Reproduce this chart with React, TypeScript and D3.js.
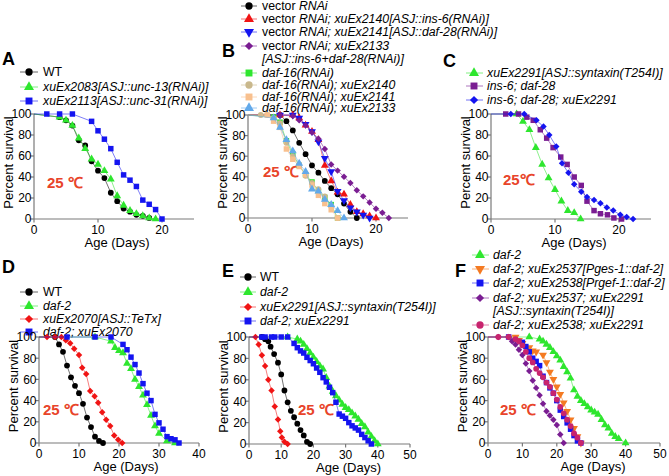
import * as d3 from "d3";
import React from "react";

type Pt = [number, number];
type Shape = "circle" | "square" | "triangle" | "down" | "diamond";

// ---- panel A: survival (day, % alive)
const aWT: Pt[] = [[4, 97], [5, 94], [6, 89], [7, 75], [8, 70], [9, 55], [10, 46], [11, 39], [12, 25], [13, 17], [14, 10], [15, 7], [16, 4], [17, 3], [18, 1]];
const aUnc13: Pt[] = [[4, 97], [5, 94], [6, 89], [7, 77], [8, 67], [9, 57], [10, 52], [11, 46], [12, 38], [13, 22], [14, 13], [15, 8], [16, 5], [17, 3], [18, 1], [19, 0]];
const aUnc31: Pt[] = [[2, 100], [4, 100], [6, 100], [9, 93], [10, 84], [11, 76], [12, 67], [13, 54], [14, 42], [15, 37], [16, 31], [17, 18], [18, 14], [19, 9], [20, 0]];

// ---- panel B
const bVec: Pt[] = [[5, 100], [6, 94], [7, 85], [8, 73], [9, 62], [10, 51], [11, 44], [12, 36], [13, 29], [14, 23], [15, 14], [16, 6], [17, 0]];
const bIns6: Pt[] = [[5, 100], [7, 100], [8, 97], [9, 90], [10, 84], [11, 76], [12, 51], [13, 36], [14, 25], [15, 23], [16, 13], [17, 6], [18, 4], [19, 2], [20, 0]];
const bDaf28: Pt[] = [[5, 100], [7, 100], [8, 97], [9, 91], [10, 84], [11, 74], [12, 58], [13, 45], [14, 26], [15, 17], [16, 10], [17, 6], [18, 3], [19, 0]];
const bBoth: Pt[] = [[5, 100], [7, 99], [8, 95], [9, 90], [10, 83], [11, 77], [12, 67], [13, 52], [14, 46], [15, 40], [16, 34], [17, 27], [18, 21], [19, 15], [20, 9], [21, 5], [22, 0]];
const bD16: Pt[] = [[4, 98], [5, 93], [6, 75], [7, 62], [8, 51], [9, 42], [10, 35], [11, 26], [12, 20], [13, 13], [14, 0]];
const bD16Ins6: Pt[] = [[2, 100], [3, 100], [4, 97], [5, 92], [6, 73], [7, 60], [8, 52], [9, 41], [10, 34], [11, 28], [12, 21], [13, 12], [14, 0]];
const bD16Daf28: Pt[] = [[3, 100], [4, 94], [5, 88], [6, 67], [7, 57], [8, 50], [9, 42], [10, 32], [11, 22], [12, 14], [13, 8], [14, 0]];
const bD16Both: Pt[] = [[4, 97], [5, 88], [6, 76], [7, 65], [8, 53], [9, 45], [10, 28], [11, 26], [12, 18], [13, 13], [14, 7], [15, 0]];

// ---- panel C
const cSyn: Pt[] = [[4, 100], [5, 93], [6, 85], [7, 68], [8, 52], [9, 39], [10, 28], [11, 17], [12, 8], [13, 6], [14, 0]];
const cInsDaf: Pt[] = [[2.3, 100], [4.3, 100], [5.6, 97], [6.6, 94], [7.7, 85], [8.7, 77], [9.7, 68], [10.9, 59], [11.9, 52], [13, 40], [14.1, 32], [15, 17], [16.1, 8], [17.1, 5], [18.2, 4], [19.2, 1], [20.4, 0]];
const cAll: Pt[] = [[3.1, 100], [5.2, 100], [7.1, 94], [8.2, 88], [9.1, 80], [10.2, 69], [11.1, 53], [12.1, 44], [13, 33], [14.1, 26], [15, 21], [16.1, 18], [17.1, 15], [18.1, 11], [19.1, 8], [20.2, 4], [21.2, 2], [22.2, 0]];

// ---- panel D
const dWT: Pt[] = [[4, 100], [5, 93], [6, 86], [7, 73], [8, 62], [9, 54], [10, 47], [11, 37], [12, 24], [13, 15], [14, 6], [15, 2], [16, 0]];
const dDaf2: Pt[] = [[14, 100], [18, 96], [19, 90], [20, 87], [21, 85], [22, 75], [23, 70], [24, 60], [25, 53], [26, 45], [27, 36], [28, 26], [29, 16], [30, 9], [32, 2], [34, 0]];
const dTeTx: Pt[] = [[2, 100], [4, 100], [5.6, 100], [6.7, 97], [7.8, 94], [8.8, 89], [10, 83], [10.8, 71], [11.8, 65], [12.8, 49], [13.9, 44], [14.8, 38], [15.8, 29], [16.8, 22], [17.8, 16], [18.8, 7], [19.8, 3], [20.8, 0]];
const dBoth: Pt[] = [[7, 100], [14, 100], [18, 100], [21, 93], [22, 88], [23, 81], [24, 74], [25, 66], [26, 56], [27, 47], [28, 40], [29, 27], [30, 19], [31, 13], [32, 6], [33, 4], [34, 3], [35, 0]];

// ---- panel E
const eWT: Pt[] = [[4, 100], [5, 98], [6, 96], [6.7, 91], [7.8, 84], [9, 76], [10, 65], [11, 50], [12, 39], [13, 31], [14, 25], [15, 19], [16, 13], [17, 8], [18, 2], [19, 0]];
const eDaf2: Pt[] = [[12, 100], [15, 98], [16, 96], [17, 93], [18, 89], [19, 85], [20, 81], [21, 77], [22, 73], [23, 70], [24, 62], [25, 54], [26, 49], [27, 45], [28, 41], [29, 37], [30, 34], [31, 32], [32, 29], [33, 26], [34, 23], [35, 19], [36, 16], [37, 11], [38, 7], [39, 3], [40, 0]];
const eSyn: Pt[] = [[2, 100], [3, 93], [4, 83], [5, 73], [6, 60], [7, 50], [8, 35], [9, 23], [9.7, 12], [10.2, 6], [11, 2], [12, 0]];
const eBoth: Pt[] = [[4, 100], [5, 100], [7, 100], [8, 100], [10, 100], [12, 100], [14, 94], [15, 90], [16, 87], [17, 85], [18, 81], [19, 78], [20, 75], [21, 71], [22, 67], [23, 62], [24, 58], [25, 53], [26, 48], [27, 39], [28, 28], [29, 26], [30, 24], [31, 20], [32, 17], [33, 15], [34, 13], [35, 9], [36, 6], [37, 3], [38, 0]];

// ---- panel F
const fDaf2: Pt[] = [[12, 100], [15, 98], [16, 96], [17, 93], [18, 90], [19, 86], [20, 82], [21, 78], [22, 72], [23, 67], [24, 61], [25, 50], [26, 44], [27, 40], [28, 37], [29, 34], [30, 31], [31, 29], [32, 27], [33, 22], [34, 17], [35, 14], [36, 9], [37, 6], [38, 4], [40, 0]];
const fGes: Pt[] = [[8, 100], [9, 97], [10, 94], [12, 90], [13, 87], [14, 86], [16, 83], [17, 76], [18, 67], [19, 60], [20, 53], [21, 46], [22, 38], [23, 30], [24, 22], [25, 14], [26, 6], [27, 0]];
const fRgef: Pt[] = [[6, 100], [10, 95], [11, 91], [12, 86], [13, 80], [14, 77], [15, 73], [16, 63], [17, 57], [18, 52], [19, 47], [20, 40], [21, 31], [22, 25], [23, 19], [24, 13], [25, 7], [26, 2], [27, 0]];
const fGesSyn: Pt[] = [[3, 100], [6, 100], [7, 96], [8, 93], [9, 88], [10, 83], [11, 75], [12, 68], [13, 59], [14, 52], [15, 45], [16, 37], [17, 30], [18, 26], [19, 22], [20, 17], [21, 8], [22, 0]];
const fRgefSyn: Pt[] = [[3, 100], [6, 100], [8, 98], [9, 96], [10, 92], [11, 86], [12, 80], [13, 76], [14, 70], [15, 66], [16, 62], [17, 57], [18, 53], [19, 47], [20, 41], [21, 34], [22, 28], [23, 22], [24, 16], [25, 9], [26, 5], [27, 0]];

const yTicks = [0, 20, 40, 60, 80, 100];

const COL = {
  black: "#000000",
  green: "#2ee62e",
  blue: "#1414f0",
  red: "#f01414",
  purple: "#7a1d92",
  tan: "#c9b88c",
  peach: "#f8c08e",
  sky: "#62a9ea",
  orange: "#f47a22",
  magenta: "#c8246e",
  temp: "#e8442a",
  axis: "#7a7a7a",
};

const FONT = "'Liberation Sans', Arial, sans-serif";

interface Series { data: Pt[]; color: string; shape: Shape }
interface Row { y: number; shape?: Shape; color?: string; parts: [string, boolean][] }
interface PanelCfg {
  letter: string; lx: number; ly: number;
  x0: number; x1: number; yTop: number; yBot: number; xMax: number; xTicks: number[];
  titleDx: number;
  temp: { x: number; y: number; text: string };
  leg: { mx: number; l0: number; l1: number; tx: number; rows: Row[] };
  series: Series[];
}

const it = (s: string): [string, boolean] => [s, true];
const rm = (s: string): [string, boolean] => [s, false];

const panels: PanelCfg[] = [
  {
    letter: "A", lx: 2, ly: 65, x0: 34, x1: 194, yTop: 114, yBot: 219, xMax: 25, xTicks: [0, 10, 20], titleDx: 3,
    temp: { x: 47, y: 188, text: "25 ℃" },
    leg: {
      mx: 29, l0: 20, l1: 38, tx: 43, rows: [
        { y: 72, shape: "circle", color: COL.black, parts: [rm("WT")] },
        { y: 87, shape: "triangle", color: COL.green, parts: [it("xuEx2083[ASJ::unc-13(RNAi)]")] },
        { y: 101, shape: "square", color: COL.blue, parts: [it("xuEx2113[ASJ::unc-31(RNAi)]")] },
      ]
    },
    series: [
      { data: aWT, color: COL.black, shape: "circle" },
      { data: aUnc13, color: COL.green, shape: "triangle" },
      { data: aUnc31, color: COL.blue, shape: "square" },
    ],
  },
  {
    letter: "B", lx: 222, ly: 57, x0: 248, x1: 408, yTop: 115, yBot: 218, xMax: 25, xTicks: [0, 10, 20], titleDx: 3,
    temp: { x: 263, y: 177, text: "25 ℃" },
    leg: {
      mx: 249, l0: 241, l1: 257, tx: 262, rows: [
        { y: 6, shape: "circle", color: COL.black, parts: [rm("vector "), it("RNAi")] },
        { y: 19, shape: "triangle", color: COL.red, parts: [rm("vector "), it("RNAi; xuEx2140[ASJ::ins-6(RNAi)]")] },
        { y: 32, shape: "down", color: COL.blue, parts: [rm("vector "), it("RNAi; xuEx2141[ASJ::daf-28(RNAi)]")] },
        { y: 46, shape: "diamond", color: COL.purple, parts: [rm("vector "), it("RNAi; xuEx2133")] },
        { y: 59, parts: [it("[ASJ::ins-6+daf-28(RNAi)]")] },
        { y: 73, shape: "square", color: COL.green, parts: [it("daf-16(RNAi)")] },
        { y: 85, shape: "circle", color: COL.tan, parts: [it("daf-16(RNAi); xuEx2140")] },
        { y: 97, shape: "square", color: COL.peach, parts: [it("daf-16(RNAi); xuEx2141")] },
        { y: 108, shape: "triangle", color: COL.sky, parts: [it("daf-16(RNAi); xuEx2133")] },
      ]
    },
    series: [
      { data: bVec, color: COL.black, shape: "circle" },
      { data: bIns6, color: COL.red, shape: "triangle" },
      { data: bDaf28, color: COL.blue, shape: "down" },
      { data: bBoth, color: COL.purple, shape: "diamond" },
      { data: bD16, color: COL.green, shape: "square" },
      { data: bD16Ins6, color: COL.tan, shape: "circle" },
      { data: bD16Daf28, color: COL.peach, shape: "square" },
      { data: bD16Both, color: COL.sky, shape: "triangle" },
    ],
  },
  {
    letter: "C", lx: 443, ly: 67, x0: 491, x1: 651, yTop: 114, yBot: 219, xMax: 25, xTicks: [0, 10, 20], titleDx: 3,
    temp: { x: 503, y: 185, text: "25℃" },
    leg: {
      mx: 474, l0: 466, l1: 483, tx: 487, rows: [
        { y: 73, shape: "triangle", color: COL.green, parts: [it("xuEx2291[ASJ::syntaxin(T254I)]")] },
        { y: 86, shape: "square", color: COL.purple, parts: [it("ins-6; daf-28")] },
        { y: 100, shape: "diamond", color: COL.blue, parts: [it("ins-6; daf-28; xuEx2291")] },
      ]
    },
    series: [
      { data: cSyn, color: COL.green, shape: "triangle" },
      { data: cInsDaf, color: COL.purple, shape: "square" },
      { data: cAll, color: COL.blue, shape: "diamond" },
    ],
  },
  {
    letter: "D", lx: 2, ly: 273, x0: 39, x1: 199, yTop: 337, yBot: 443, xMax: 40, xTicks: [0, 10, 20, 30, 40], titleDx: 7,
    temp: { x: 43, y: 415, text: "25 ℃" },
    leg: {
      mx: 29, l0: 20, l1: 38, tx: 43, rows: [
        { y: 292, shape: "circle", color: COL.black, parts: [rm("WT")] },
        { y: 306, shape: "triangle", color: COL.green, parts: [it("daf-2")] },
        { y: 319, shape: "diamond", color: COL.red, parts: [it("xuEx2070[ASJ::TeTx]")] },
        { y: 332, shape: "square", color: COL.blue, parts: [it("daf-2; xuEx2070")] },
      ]
    },
    series: [
      { data: dWT, color: COL.black, shape: "circle" },
      { data: dDaf2, color: COL.green, shape: "triangle" },
      { data: dTeTx, color: COL.red, shape: "diamond" },
      { data: dBoth, color: COL.blue, shape: "square" },
    ],
  },
  {
    letter: "E", lx: 222, ly: 277, x0: 249, x1: 410, yTop: 337, yBot: 444, xMax: 50, xTicks: [0, 10, 20, 30, 40, 50], titleDx: 19,
    temp: { x: 298, y: 415, text: "25 ℃" },
    leg: {
      mx: 248, l0: 240, l1: 256, tx: 260, rows: [
        { y: 277, shape: "circle", color: COL.black, parts: [rm("WT")] },
        { y: 292, shape: "triangle", color: COL.green, parts: [it("daf-2")] },
        { y: 307, shape: "diamond", color: COL.red, parts: [it("xuEx2291[ASJ::syntaxin(T254I)]")] },
        { y: 321, shape: "square", color: COL.blue, parts: [it("daf-2; xuEx2291")] },
      ]
    },
    series: [
      { data: eWT, color: COL.black, shape: "circle" },
      { data: eDaf2, color: COL.green, shape: "triangle" },
      { data: eSyn, color: COL.red, shape: "diamond" },
      { data: eBoth, color: COL.blue, shape: "square" },
    ],
  },
  {
    letter: "F", lx: 455, ly: 277, x0: 488, x1: 660, yTop: 337, yBot: 443, xMax: 50, xTicks: [0, 10, 20, 30, 40, 50], titleDx: 19,
    temp: { x: 500, y: 415, text: "25 ℃" },
    leg: {
      mx: 480, l0: 472, l1: 489, tx: 493, rows: [
        { y: 255, shape: "triangle", color: COL.green, parts: [it("daf-2")] },
        { y: 269, shape: "down", color: COL.orange, parts: [it("daf-2; xuEx2537[Pges-1::daf-2]")] },
        { y: 283, shape: "square", color: COL.blue, parts: [it("daf-2; xuEx2538[Prgef-1::daf-2]")] },
        { y: 298, shape: "diamond", color: COL.purple, parts: [it("daf-2; xuEx2537; xuEx2291")] },
        { y: 311, parts: [it("[ASJ::syntaxin(T254I)]")] },
        { y: 325, shape: "circle", color: COL.magenta, parts: [it("daf-2; xuEx2538; xuEx2291")] },
      ]
    },
    series: [
      { data: fDaf2, color: COL.green, shape: "triangle" },
      { data: fGes, color: COL.orange, shape: "down" },
      { data: fRgef, color: COL.blue, shape: "square" },
      { data: fGesSyn, color: COL.purple, shape: "diamond" },
      { data: fRgefSyn, color: COL.magenta, shape: "circle" },
    ],
  },
];

const symbolPath = (shape: Shape, size: number) => {
  const type = shape === "circle" ? d3.symbolCircle
    : shape === "square" || shape === "diamond" ? d3.symbolSquare
      : d3.symbolTriangle;
  return d3.symbol().type(type).size(size)() as string;
};

const symbolRot = (shape: Shape) => (shape === "diamond" ? 45 : shape === "down" ? 180 : 0);

const markerSize = (shape: Shape) =>
  shape === "circle" ? 26 : shape === "square" ? 30 : shape === "diamond" ? 21 : 27;

function Marker({ shape, color, x, y, scale = 1 }: { shape: Shape; color: string; x: number; y: number; scale?: number }) {
  return (
    <path
      d={symbolPath(shape, markerSize(shape) * scale)}
      transform={`translate(${x},${y}) rotate(${symbolRot(shape)})`}
      fill={color}
    />
  );
}

function Panel({ p }: { p: PanelCfg }) {
  const x = d3.scaleLinear().domain([0, p.xMax]).range([p.x0, p.x1]);
  const y = d3.scaleLinear().domain([0, 100]).range([p.yBot, p.yTop]);
  const line = d3.line<Pt>().x((d) => x(d[0])).y((d) => y(d[1]));
  const midY = (p.yTop + p.yBot) / 2 - 4;

  return (
    <g fontFamily={FONT}>
      <text x={p.lx} y={p.ly} fontSize={18} fontWeight="bold">{p.letter}</text>

      {/* legend */}
      {p.leg.rows.map((r, i) => (
        <g key={i}>
          {r.shape && (
            <>
              <line x1={p.leg.l0} x2={p.leg.l1} y1={r.y} y2={r.y} stroke={r.color} strokeOpacity={0.6} strokeWidth={1} />
              <Marker shape={r.shape} color={r.color!} x={p.leg.mx} y={r.y} scale={1.6} />
            </>
          )}
          <text x={p.leg.tx} y={r.y + 4.3} fontSize={12.3}>
            {r.parts.map(([s, ital], j) => (
              <tspan key={j} fontStyle={ital ? "italic" : "normal"}>{s}</tspan>
            ))}
          </text>
        </g>
      ))}

      {/* axes */}
      <line x1={p.x0} x2={p.x1} y1={p.yBot} y2={p.yBot} stroke={COL.axis} strokeWidth={1.2} />
      <line x1={p.x0} x2={p.x0} y1={p.yBot} y2={p.yTop} stroke={COL.axis} strokeWidth={1.2} />
      {yTicks.map((t) => (
        <g key={"y" + t}>
          <line x1={p.x0 - 3.5} x2={p.x0} y1={y(t)} y2={y(t)} stroke={COL.axis} strokeWidth={1.2} />
          <text x={p.x0 - 2.5} y={y(t) + 4.3} fontSize={12} textAnchor="end">{t}</text>
        </g>
      ))}
      {p.xTicks.map((t) => (
        <g key={"x" + t}>
          <line x1={x(t)} x2={x(t)} y1={p.yBot} y2={p.yBot + 3.5} stroke={COL.axis} strokeWidth={1.2} />
          <text x={x(t)} y={p.yBot + 14.5} fontSize={12} textAnchor="middle">{t}</text>
        </g>
      ))}
      <text x={(p.x0 + p.x1) / 2 + p.titleDx} y={p.yBot + 27.5} fontSize={13} textAnchor="middle">Age (Days)</text>
      <text transform={`translate(${p.x0 - 21},${midY}) rotate(-90)`} fontSize={13} textAnchor="middle">Percent survival</text>

      <text x={p.temp.x} y={p.temp.y} fontSize={15} fontWeight="bold" fill={COL.temp}>{p.temp.text}</text>

      {/* curves */}
      {p.series.map((s, i) => (
        <g key={i}>
          <path d={line([[0, 100] as Pt, ...s.data]) as string} fill="none" stroke={s.color} strokeOpacity={0.55} strokeWidth={1} />
          {s.data.map((d, j) => (
            <Marker key={j} shape={s.shape} color={s.color} x={x(d[0])} y={y(d[1])} />
          ))}
        </g>
      ))}
    </g>
  );
}

export default function App() {
  return (
    <svg
      width={669}
      height={476}
      viewBox="0 0 669 476"
      style={{ position: "absolute", left: 0, top: 0, background: "#fff" }}
    >
      <rect width={669} height={476} fill="#fff" />
      {panels.map((p) => (
        <Panel key={p.letter} p={p} />
      ))}
    </svg>
  );
}
